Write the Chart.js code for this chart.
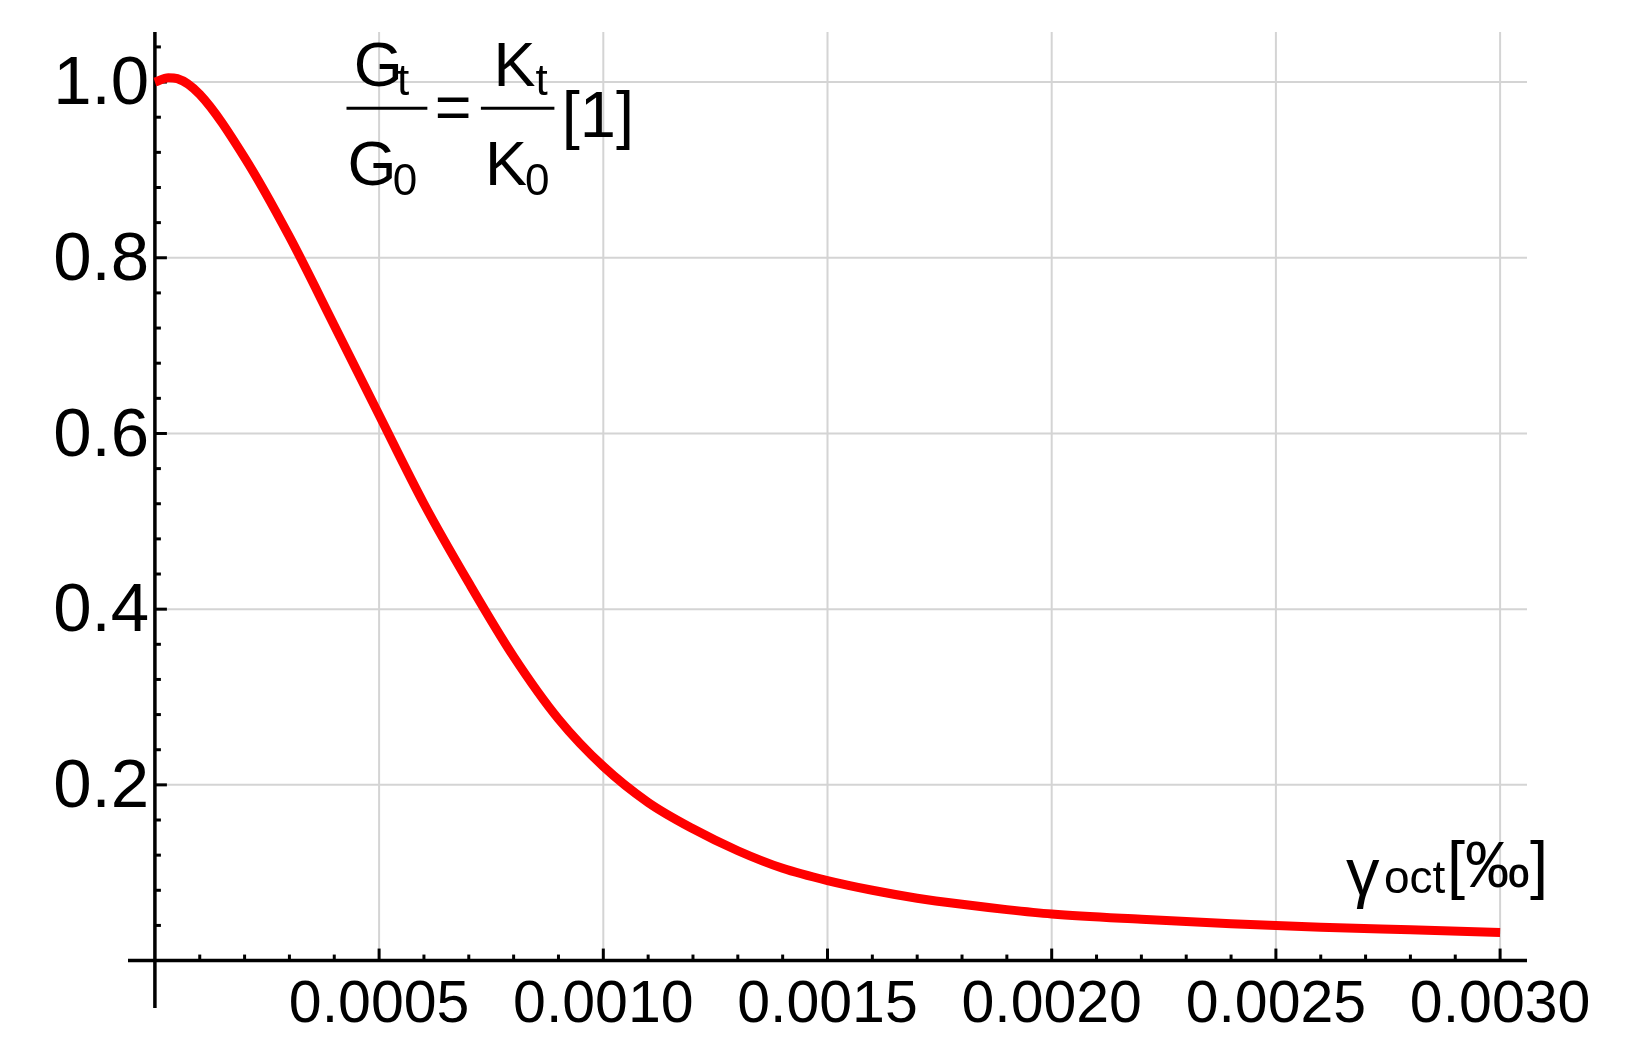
<!DOCTYPE html><html><head><meta charset="utf-8">
<script src="https://cdn.jsdelivr.net/npm/chart.js@4/dist/chart.umd.min.js"></script>
<style>html,body{margin:0;padding:0;background:#fff}#w{width:1646px;height:1063px}</style></head><body>
<div id="w"><canvas id="c"></canvas></div>
<script>
const strainValues=[0,0.00003,0.00005,0.0001,0.0002,0.0003,0.0004,0.0005,0.0006,0.0007,0.0008,0.0009,0.0010,0.0011,0.0012,0.0013,0.0014,0.0015,0.0016,0.0017,0.0018,0.0019,0.0020,0.0022,0.0024,0.0026,0.0028,0.0030];
const ratioValues=[1.0,1.005,1.004,0.986,0.914,0.824,0.723,0.621,0.520,0.430,0.346,0.275,0.221,0.180,0.150,0.125,0.105,0.091,0.080,0.071,0.064,0.058,0.053,0.047,0.042,0.038,0.035,0.032];
const xTickLabels=['0.0005','0.0010','0.0015','0.0020','0.0025','0.0030'];
const yTickLabels=['0.2','0.4','0.6','0.8','1.0'];
const FONT='"Liberation Sans", Arial, sans-serif';
const S=1.05;
const axesPlugin={id:'ax',beforeDatasetsDraw(ch){const c=ch.ctx,x=ch.scales.x,y=ch.scales.y,a=ch.chartArea;
const x0=x.getPixelForValue(0),y0=y.getPixelForValue(0);
const f=(n)=>Math.round(n*S)+'px '+FONT;
c.save();c.strokeStyle='#d4d4d4';c.lineWidth=2;
xTickLabels.forEach(t=>{const p=x.getPixelForValue(+t);c.beginPath();c.moveTo(p,a.top);c.lineTo(p,y0);c.stroke();});
yTickLabels.forEach(t=>{const p=y.getPixelForValue(+t);c.beginPath();c.moveTo(x0,p);c.lineTo(a.right,p);c.stroke();});
c.strokeStyle='#000';c.lineWidth=3.5;
c.beginPath();c.moveTo(a.left,y0);c.lineTo(a.right,y0);c.stroke();
c.beginPath();c.moveTo(x0,a.top);c.lineTo(x0,a.bottom);c.stroke();
c.lineWidth=3;
for(let i=1;i<=30;i++){const p=x.getPixelForValue(i*0.0001);const L=i%5===0?12:6;c.beginPath();c.moveTo(p,y0);c.lineTo(p,y0-L);c.stroke();}
for(let i=1;i<=26;i++){const v=i*0.04;const p=y.getPixelForValue(v);const L=i%5===0?12:6;c.beginPath();c.moveTo(x0,p);c.lineTo(x0+L,p);c.stroke();}
c.fillStyle='#000';c.font=f(56);c.textAlign='center';c.textBaseline='middle';
xTickLabels.forEach(t=>c.fillText(t,x.getPixelForValue(+t),958*S));
c.font=f(66);c.textAlign='right';
yTickLabels.forEach(t=>c.fillText(t,142*S,y.getPixelForValue(+t)+3));
c.textAlign='left';c.textBaseline='alphabetic';
const T=(s,px,X,Y)=>{c.font=f(px);c.fillText(s,X*S,Y*S);};
T('G',60,337,82);T('t',42,378,90);
T('G',60,331,176);T('0',42,374,186);
c.lineWidth=3;c.beginPath();c.moveTo(330*S,103*S);c.lineTo(407*S,103*S);c.stroke();
T('=',60,414,123);
T('K',60,470,82);T('t',42,510,90);
T('K',60,462,176);T('0',42,500,186);
c.beginPath();c.moveTo(458*S,103*S);c.lineTo(528*S,103*S);c.stroke();
T('[1]',62,535,130);
T('γ',64,1282,852);T('oct',44,1318,850);
T('[‰]',62,1378,845);
c.restore();}};
new Chart(document.getElementById('c'),{type:'line',
data:{datasets:[{data:strainValues.map((v,i)=>({x:v,y:ratioValues[i]})),borderColor:'#ff0000',borderWidth:9,pointRadius:0,cubicInterpolationMode:'monotone',fill:false}]},
options:{responsive:true,maintainAspectRatio:false,animation:false,devicePixelRatio:1,
layout:{padding:{left:128,right:119,top:32,bottom:55}},
plugins:{legend:{display:false},tooltip:{enabled:false}},
scales:{x:{type:'linear',min:-0.00006,max:0.00306,display:false},y:{min:-0.054,max:1.057,display:false}}},
plugins:[axesPlugin]});
</script></body></html>
